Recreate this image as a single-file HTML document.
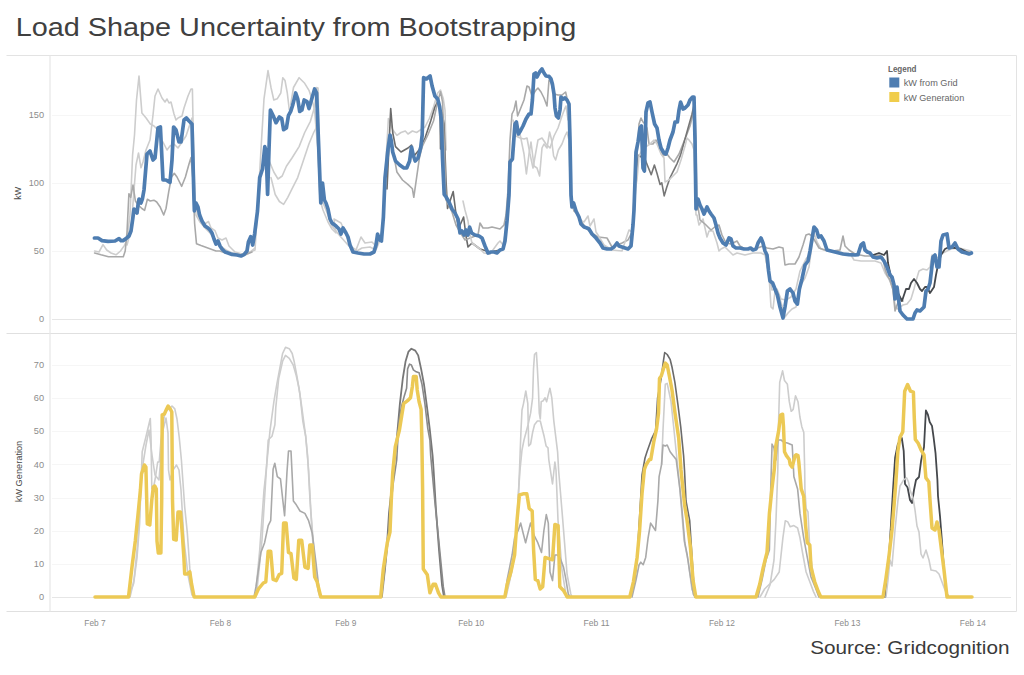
<!DOCTYPE html>
<html><head><meta charset="utf-8"><style>
html,body{margin:0;padding:0;background:#fff;width:1024px;height:675px;overflow:hidden}
body{font-family:"Liberation Sans",sans-serif;position:relative}
.title{position:absolute;left:17px;top:10px;font-size:25.5px;color:#333;white-space:nowrap;letter-spacing:0.2px}
.src{position:absolute;left:811px;top:634px;font-size:18px;color:#333;white-space:nowrap;letter-spacing:0.3px}
svg{position:absolute;left:0;top:0}
.tt{font-size:26px;fill:#404040}
.sr{font-size:18.6px;fill:#3a3a3a}
.ax{font-size:9.2px;fill:#8c8c8c}
.at{font-size:9.2px;fill:#4a4a4a}
.lg{font-size:9px;fill:#666}
</style></head><body>
<svg width="1024" height="675" viewBox="0 0 1024 675">
<line x1="6.5" y1="55.5" x2="1016.5" y2="55.5" stroke="#e3e3e3" stroke-width="1"/>
<line x1="1016.5" y1="55.5" x2="1016.5" y2="611.5" stroke="#e3e3e3" stroke-width="1"/>
<line x1="6.5" y1="333.5" x2="1016.5" y2="333.5" stroke="#e0e0e0" stroke-width="1"/>
<line x1="6.5" y1="611.5" x2="1016.5" y2="611.5" stroke="#e0e0e0" stroke-width="1"/>
<line x1="50" y1="55.5" x2="50" y2="611.5" stroke="#e6e6e6" stroke-width="1.2"/>
<line x1="52" y1="251.5" x2="1011" y2="251.5" stroke="#f6f6f6" stroke-width="1"/>
<line x1="52" y1="183.5" x2="1011" y2="183.5" stroke="#f6f6f6" stroke-width="1"/>
<line x1="52" y1="115.5" x2="1011" y2="115.5" stroke="#f6f6f6" stroke-width="1"/>
<line x1="52" y1="319.5" x2="1011" y2="319.5" stroke="#e6e6e6" stroke-width="1"/>
<line x1="52" y1="564.5" x2="1011" y2="564.5" stroke="#f6f6f6" stroke-width="1"/>
<line x1="52" y1="531.5" x2="1011" y2="531.5" stroke="#f6f6f6" stroke-width="1"/>
<line x1="52" y1="498.5" x2="1011" y2="498.5" stroke="#f6f6f6" stroke-width="1"/>
<line x1="52" y1="464.5" x2="1011" y2="464.5" stroke="#f6f6f6" stroke-width="1"/>
<line x1="52" y1="431.5" x2="1011" y2="431.5" stroke="#f6f6f6" stroke-width="1"/>
<line x1="52" y1="398.5" x2="1011" y2="398.5" stroke="#f6f6f6" stroke-width="1"/>
<line x1="52" y1="365.5" x2="1011" y2="365.5" stroke="#f6f6f6" stroke-width="1"/>
<line x1="52" y1="597.5" x2="1011" y2="597.5" stroke="#e6e6e6" stroke-width="1"/>
<polyline points="94.6,251.0 99.0,252.0 103.0,244.6 106.7,250.0 111.0,253.0 116.0,254.8 120.5,251.0 124.3,245.6 127.0,240.0 130.0,215.0 132.6,154.8 134.5,135.0 136.5,100.0 139.0,76.0 141.9,113.0 146.1,118.0 150.3,124.0 154.0,126.0 158.0,130.0 161.0,140.0 163.0,142.0 167.0,150.0 170.0,146.0 174.0,144.0 178.0,148.0 182.0,142.0 186.0,136.0 190.0,124.0 192.0,118.0 193.5,150.0 195.0,200.0 198.0,215.0 203.0,225.0 208.5,221.5 211.0,228.0 215.0,230.7 218.0,238.0 222.0,240.0 226.0,238.0 229.0,246.0 235.0,252.0 242.0,254.0 250.0,252.0 255.0,248.0" fill="none" stroke="#cdcdcd" stroke-width="1.6" stroke-linejoin="round" stroke-linecap="round"/>
<polyline points="127.0,245.0 131.0,230.0 134.0,190.0 136.0,165.0 138.5,153.0 141.0,167.8 143.0,162.0 146.0,150.0 150.0,140.0 153.0,115.0 155.0,96.0 158.0,89.0 162.0,98.0 165.0,102.0 167.0,99.0 169.0,103.0 171.0,102.0 174.0,114.0 176.0,120.0 178.0,118.0 182.0,116.0 184.0,108.0 188.0,96.0 191.0,89.0 192.4,89.0 193.0,120.0 194.5,200.0 196.0,215.0 200.0,222.0 205.0,228.0 210.0,233.0 215.0,240.0 220.0,246.0 226.0,250.0 232.0,253.0 240.0,254.0 248.0,253.0 255.0,250.0 257.5,211.0 261.0,149.4 264.0,98.8 268.0,70.6 271.0,87.5 273.8,100.0 277.2,98.8 280.8,93.0 282.8,77.7 285.0,80.5 287.3,93.0 289.3,110.0" fill="none" stroke="#cdcdcd" stroke-width="1.6" stroke-linejoin="round" stroke-linecap="round"/>
<polyline points="94.6,253.0 101.0,254.8 108.5,256.7 117.8,256.7 123.3,256.7 125.2,251.0 127.0,232.6 128.9,193.7 130.7,197.4 133.0,185.0 135.4,201.0 138.0,204.8 141.9,208.5 144.6,210.4 147.4,199.3 150.2,201.0 153.9,200.2 156.7,202.0 160.0,206.7 163.7,215.0 166.0,208.5 168.7,191.9 171.5,177.0 174.3,173.3 177.0,177.0 181.7,186.3 185.4,177.0 189.0,164.0 191.0,157.6 193.0,180.0 194.6,223.3 196.5,243.7 201.0,245.6 208.5,248.3 216.0,251.0 219.6,251.0 226.0,253.0 235.0,255.0 245.0,255.0 252.0,252.0" fill="none" stroke="#a9a9a9" stroke-width="1.6" stroke-linejoin="round" stroke-linecap="round"/>
<polyline points="290.7,104.4 293.5,87.5 299.1,77.7 304.7,83.3 309.0,90.3 311.8,98.8 314.6,110.0 316.0,128.3 318.0,150.0 320.0,200.0 323.0,210.0 328.0,222.0 332.0,229.0 336.0,233.0 334.0,219.0 341.0,223.0 346.0,234.0 350.0,246.0 356.0,250.0 361.0,237.0 365.0,243.0 372.0,242.0 376.0,246.0" fill="none" stroke="#cdcdcd" stroke-width="1.6" stroke-linejoin="round" stroke-linecap="round"/>
<polyline points="268.0,158.0 273.8,172.0 278.0,179.0 282.2,176.0 286.4,166.3 292.0,158.0 299.1,146.6 304.7,132.5 310.4,121.3 314.6,107.0 316.6,87.5 318.0,88.0 319.0,130.0" fill="none" stroke="#cdcdcd" stroke-width="1.6" stroke-linejoin="round" stroke-linecap="round"/>
<polyline points="271.0,177.6 275.2,194.5 279.4,201.5 283.6,204.3 287.8,197.3 292.0,188.8 297.7,177.6 303.3,160.7 309.0,143.8 313.7,132.5 316.6,127.0 318.0,150.0 320.0,196.0 326.0,210.0 332.0,226.0 340.0,236.0 348.0,245.0 355.0,252.0 362.0,248.0 370.0,247.0 376.0,250.0 380.0,240.0 383.0,225.0 386.0,160.0 388.4,118.5 392.7,129.7 396.9,135.4 401.0,132.5 405.3,131.0 408.0,134.0 412.4,131.0 416.6,132.5 420.8,129.7 425.0,127.0 429.3,118.5 433.5,107.0 437.7,93.0 440.5,90.0 443.3,98.8 445.0,110.0 446.0,150.0" fill="none" stroke="#cdcdcd" stroke-width="1.6" stroke-linejoin="round" stroke-linecap="round"/>
<polyline points="387.0,189.0 390.7,108.6 392.7,132.5 395.5,146.6 401.0,152.0 408.0,148.0 411.5,145.0 414.0,156.0 419.4,149.4 425.0,138.0 430.7,121.0 434.9,107.0 437.7,101.6 440.0,107.0 440.5,149.0 442.0,112.0 444.0,124.0 446.0,180.0 447.5,208.5 453.2,191.6 456.0,214.0 458.8,228.0 463.6,217.0 466.0,236.0 468.0,247.0 472.0,243.0 480.0,249.0 490.0,252.0 500.0,250.0" fill="none" stroke="#6b6b6b" stroke-width="1.6" stroke-linejoin="round" stroke-linecap="round"/>
<polyline points="392.7,149.4 396.9,172.0 402.5,180.0 408.1,184.6 412.4,188.8 413.8,197.3 416.6,177.6 419.4,158.0 422.2,146.6 427.8,135.0 433.5,121.0 437.7,101.6 440.5,91.7 442.5,101.6 444.0,140.0 446.0,200.0 452.0,212.0 456.0,225.0 460.0,232.0 465.0,240.0 470.0,238.0 478.0,235.0 480.0,223.0 483.0,228.0 488.0,228.0 492.0,227.0 496.0,228.0 500.0,229.0 504.0,225.0 506.0,215.0 508.0,190.0 510.0,140.0 512.0,114.0 514.0,110.0 516.0,101.0 517.6,116.0 520.0,110.0 524.0,100.0 527.0,86.0 529.0,87.0 532.0,96.0 536.0,90.0 538.0,88.0 541.0,92.0 544.0,98.0 547.0,106.0 549.0,80.0 551.0,82.0 554.0,94.0 558.0,95.0 562.0,95.0 565.6,92.0 567.0,98.0 569.0,104.0 570.0,150.0 571.0,200.0 574.0,211.0 578.0,214.0 583.0,224.0 590.0,232.0 598.0,237.0 607.0,238.0 612.0,247.0 622.0,243.0 628.0,240.0 632.0,232.0 635.0,200.0 637.0,156.0 639.0,124.0 641.0,118.0 643.0,122.0 645.0,124.0 647.0,128.0 649.0,144.0 653.0,144.0 656.0,140.0 659.0,146.0 663.0,156.0 667.0,154.0 670.0,158.0 674.0,162.0 679.0,154.0 683.0,144.0 687.0,134.0 690.0,126.0 693.0,114.0 695.0,110.0 696.0,150.0 697.0,210.0" fill="none" stroke="#a9a9a9" stroke-width="1.6" stroke-linejoin="round" stroke-linecap="round"/>
<polyline points="463.0,201.0 465.0,210.0 468.0,221.0 470.0,235.0 472.0,243.0 476.0,246.0 480.0,249.0 484.0,253.0 490.0,254.0 498.0,243.0 500.0,241.0 503.0,245.0 506.0,230.0" fill="none" stroke="#cdcdcd" stroke-width="1.6" stroke-linejoin="round" stroke-linecap="round"/>
<polyline points="513.0,120.0 518.0,136.0 520.0,134.0 524.0,154.0 526.4,174.0 529.0,154.0 531.0,142.0 534.0,166.0 537.0,168.0 539.6,176.0 542.0,148.0 544.0,144.0 547.0,148.0 549.6,132.0 551.6,140.0 553.6,156.0 555.6,160.0 558.4,150.0 562.0,144.0 565.0,136.0 567.0,132.0 569.0,140.0 570.0,180.0 572.0,205.0 576.0,212.0 580.0,220.0 584.0,222.0 588.0,216.0 590.0,226.0 594.0,219.0 596.0,232.0 598.0,235.0 604.0,245.0 612.0,250.0 622.0,251.0 629.0,230.0 632.0,232.0" fill="none" stroke="#cdcdcd" stroke-width="1.6" stroke-linejoin="round" stroke-linecap="round"/>
<polyline points="516.0,136.0 520.0,138.0 524.0,139.0 527.0,138.0 530.0,154.0 533.0,168.0 538.0,140.0 542.0,138.0 546.0,144.0 550.0,148.0 554.0,136.0 558.0,128.0 562.0,116.0 565.0,108.0 566.0,106.0 568.0,120.0" fill="none" stroke="#cdcdcd" stroke-width="1.6" stroke-linejoin="round" stroke-linecap="round"/>
<polyline points="636.0,175.0 638.0,158.0 639.0,155.0 641.0,157.0 644.7,158.4 647.9,166.5 651.2,174.7 654.4,165.0 656.9,173.0 660.1,184.5 661.8,182.8 664.2,195.9 666.6,187.7 669.9,178.0 673.2,171.4 677.2,163.3 680.5,155.1 683.7,143.7 687.8,129.0 691.9,114.4 694.0,105.0 695.0,130.0 696.0,200.0" fill="none" stroke="#767676" stroke-width="1.6" stroke-linejoin="round" stroke-linecap="round"/>
<polyline points="633.0,210.0 635.0,190.0 637.0,180.0 639.0,156.0 643.0,148.0 647.0,146.0 650.0,144.0 654.0,140.0 657.0,144.0 661.0,154.0 664.0,158.0 665.0,182.0 669.0,180.0 673.0,176.0 677.0,172.0 681.0,160.0 685.0,146.0 687.0,138.0 689.0,140.0 692.0,144.0 694.0,150.0 696.0,215.0 697.0,215.0 699.0,225.0 703.0,219.0 707.0,237.0 709.0,231.0 713.0,231.0 717.0,243.0 719.0,251.0 721.0,249.0 725.0,247.0 729.0,251.0 733.0,255.0 737.0,253.0 745.0,255.0 753.0,253.0 761.0,253.0 765.0,255.0 769.0,275.0 771.0,307.0 773.0,309.0 775.0,291.0 779.0,296.0 783.0,309.0 785.0,317.0 788.0,313.0 792.0,309.0 796.0,307.0 799.0,290.0 802.0,283.0 805.0,278.0 809.0,267.0 812.0,245.0 814.0,233.0 817.0,242.0 821.0,249.0 827.0,251.0 840.0,252.0 851.0,255.0 854.0,260.0 861.0,261.0 869.0,261.0 875.0,261.0 881.0,263.0 885.0,273.0 889.0,279.0 893.0,289.0 895.0,305.0 897.0,309.0 903.0,305.0 907.0,304.0 911.0,299.0 914.0,289.0 916.0,281.0 919.0,271.0 923.0,269.0 927.0,270.0 930.0,267.0 932.0,255.0 937.0,258.0 943.0,253.0 951.0,249.0 959.0,248.0 967.0,250.0 971.0,251.0" fill="none" stroke="#cdcdcd" stroke-width="1.6" stroke-linejoin="round" stroke-linecap="round"/>
<polyline points="697.0,200.0 700.0,220.0 705.0,224.0 711.0,230.0 716.0,226.0 719.0,225.0 722.0,235.0 726.0,243.0 731.0,244.0 737.0,241.0 740.0,246.0 745.0,249.0 755.0,249.0 763.0,246.0 767.0,248.0 773.0,249.0 779.0,247.0 783.0,248.0 785.0,265.0 789.0,264.0 795.0,264.0 799.0,257.0 803.0,245.0 806.0,235.0 809.0,234.0 812.0,236.0 815.0,241.0 819.0,248.0 825.0,250.0 832.0,251.0 840.0,250.0 843.0,236.0 845.0,246.0 849.0,250.0 855.0,254.0 865.0,256.0 873.0,256.0 879.0,255.0 883.0,258.0 885.0,269.0 887.0,275.0 890.0,280.0 893.0,290.0 895.0,311.0 897.0,305.0 899.0,300.0 903.0,301.0" fill="none" stroke="#a9a9a9" stroke-width="1.6" stroke-linejoin="round" stroke-linecap="round"/>
<polyline points="766.0,260.0 769.0,275.0 772.0,290.0 777.0,289.0 781.0,299.0 786.0,300.0 791.0,297.0 796.0,289.0 800.0,271.0 802.0,267.0 806.0,259.0 809.0,255.0" fill="none" stroke="#cdcdcd" stroke-width="1.6" stroke-linejoin="round" stroke-linecap="round"/>
<polyline points="873.0,255.0 879.0,253.0 884.0,255.0 887.0,251.0 888.0,263.0 891.0,277.0 895.0,288.0 899.0,295.0 902.0,301.0 906.0,289.0 909.0,289.0 911.0,283.0 914.0,279.0 917.0,283.0 920.0,289.0 922.0,291.0 925.0,287.0 927.0,287.0 930.0,293.0 934.0,287.0 936.0,275.0 938.0,265.0 941.0,255.0 945.0,249.0 949.0,247.0 955.0,248.0 961.0,249.0 967.0,252.0 971.0,253.0" fill="none" stroke="#45484c" stroke-width="1.8" stroke-linejoin="round" stroke-linecap="round"/>
<polyline points="94.4,238.0 98.0,238.0 102.0,240.6 108.0,241.4 115.0,241.0 119.0,238.6 121.0,240.6 123.0,240.6 126.0,238.6 129.0,236.0 131.0,231.0 133.0,217.0 134.0,209.0 135.6,211.0 137.0,213.0 138.0,205.0 139.0,199.0 141.0,203.0 142.4,199.0 144.0,190.0 147.0,154.0 150.0,151.0 153.0,160.0 155.0,158.0 158.0,128.0 160.4,127.0 163.0,180.0 166.0,180.0 170.0,182.4 172.0,160.0 173.6,127.0 176.0,130.0 179.0,142.0 181.0,142.0 184.0,120.0 186.4,118.0 189.0,121.0 192.0,124.0 194.0,200.0 194.4,211.0 196.0,203.0 198.0,207.0 199.6,215.0 202.0,221.0 205.0,226.0 208.0,228.0 210.0,230.0 212.0,233.0 214.0,239.0 216.0,244.0 218.0,241.0 220.0,246.0 222.0,249.0 225.0,252.0 228.0,253.0 232.0,254.4 237.0,255.0 241.0,256.0 244.0,254.6 247.0,251.0 248.4,242.0 250.7,236.7 252.7,245.0 254.6,234.0 257.5,211.0 259.7,177.6 262.5,169.0 264.8,146.6 266.2,152.0 267.6,194.5 269.0,149.4 270.4,110.0 273.2,115.7 276.0,122.7 279.4,117.0 281.7,118.5 283.6,129.7 286.4,128.0 288.4,115.7 290.7,111.4 292.9,104.4 295.7,93.0 297.7,98.8 299.7,111.4 301.9,110.0 304.2,100.0 307.0,101.6 309.0,108.6 311.8,98.8 314.6,89.0 316.6,93.0 318.8,149.4 320.8,203.0 322.5,183.0 324.4,200.0 326.0,203.0 328.0,209.0 330.0,219.0 332.0,223.0 336.0,226.0 339.0,229.0 341.0,234.0 343.0,228.0 346.0,233.0 348.0,237.0 350.0,245.0 353.0,252.0 358.0,253.0 364.0,254.0 370.0,254.0 374.0,252.0 376.0,245.0 377.6,234.0 379.6,240.0 381.4,241.0 383.4,217.0 385.0,178.0 388.0,149.0 390.0,135.0 391.3,141.0 392.7,152.0 395.5,161.0 399.7,165.0 403.9,168.0 406.7,168.0 409.6,161.0 411.5,147.0 413.2,155.0 415.2,161.0 418.0,158.0 420.8,147.0 422.2,135.0 423.6,77.7 426.4,79.0 430.1,76.0 432.1,86.0 434.9,96.0 437.7,99.0 439.7,107.0 441.4,121.0 442.5,158.0 444.2,194.5 446.1,197.0 449.0,202.0 452.0,209.0 455.0,213.0 458.0,219.0 460.0,233.0 462.0,231.0 464.0,235.0 466.0,230.0 468.0,235.0 469.6,227.0 471.6,233.0 475.0,235.0 479.0,236.0 482.0,238.0 485.0,246.0 488.0,253.0 491.0,252.0 494.0,252.0 497.0,253.0 500.0,250.0 503.0,249.0 505.0,241.0 507.0,221.0 509.0,195.0 510.0,162.0 512.4,159.0 515.0,124.0 516.4,122.0 518.4,134.0 520.4,131.0 523.0,126.0 526.0,119.0 529.0,114.0 531.0,114.0 532.4,100.0 534.0,74.0 535.6,73.0 537.0,77.0 539.6,72.0 542.0,69.0 544.0,73.0 546.0,76.0 549.0,76.4 551.0,79.0 552.4,84.0 554.0,94.0 555.0,108.0 556.4,116.0 558.4,118.0 560.0,110.0 561.0,97.0 563.0,99.0 565.0,98.0 567.0,100.0 569.0,104.0 570.0,140.0 571.0,195.0 572.0,207.0 573.6,203.0 576.0,211.0 579.0,217.0 581.0,224.0 584.0,227.0 587.0,228.0 589.0,229.0 592.0,234.0 596.0,238.0 600.0,243.0 603.0,248.0 607.0,249.0 611.0,249.0 614.0,247.0 617.0,243.0 619.0,246.0 622.0,247.0 625.0,248.0 628.0,249.0 631.0,246.0 633.0,225.0 634.0,210.0 636.0,152.0 638.0,142.0 640.0,128.0 641.4,126.0 643.0,168.0 644.4,171.0 646.0,112.0 648.0,103.0 650.0,102.0 652.0,112.0 654.6,124.0 657.0,128.0 659.0,140.0 661.0,148.0 664.0,153.0 666.0,154.0 668.0,148.0 670.0,140.0 673.0,132.0 675.0,122.0 677.4,122.0 679.0,110.0 680.6,102.0 683.0,109.0 685.0,108.0 688.0,105.0 690.0,100.0 692.6,97.0 694.0,97.0 695.0,140.0 696.0,209.0 698.0,199.0 700.0,205.0 702.0,209.0 704.0,214.0 707.0,207.0 709.0,211.0 711.0,214.0 714.0,218.0 716.0,225.0 718.0,233.0 720.0,238.0 723.0,243.0 726.0,245.0 729.0,238.0 731.0,239.0 733.0,246.0 736.0,248.0 740.0,248.0 744.0,249.0 748.0,249.0 750.6,248.0 753.0,250.0 756.0,249.0 758.0,243.0 761.0,238.0 763.0,243.0 765.0,251.0 767.0,255.0 768.6,271.0 770.0,281.0 772.6,283.0 775.0,289.0 777.4,295.0 780.0,307.0 783.0,318.0 785.0,307.0 787.4,291.0 790.0,289.0 793.0,293.0 795.0,301.0 797.4,304.0 799.4,289.0 802.0,279.0 805.0,265.0 808.0,261.0 810.0,251.0 812.0,239.0 814.0,227.0 816.6,230.0 818.6,237.0 821.0,236.0 824.0,241.0 827.0,250.0 831.0,251.0 835.0,252.0 839.0,253.0 843.0,254.0 849.0,254.6 855.0,255.0 858.0,254.6 861.0,245.0 863.4,243.0 865.0,250.0 867.4,252.0 870.0,253.0 873.0,257.0 877.0,258.0 881.0,257.0 884.0,261.0 887.0,267.0 890.0,275.0 892.0,277.0 894.0,285.0 895.0,299.0 897.0,287.0 899.0,303.0 900.0,311.0 903.0,315.0 907.0,319.0 913.0,319.0 915.0,313.0 917.0,310.0 920.0,311.0 924.0,307.0 926.0,291.0 928.0,289.0 930.0,283.0 933.0,257.0 935.0,255.0 937.0,267.0 939.0,267.0 941.0,241.0 943.0,235.0 947.0,234.0 949.0,248.0 952.0,247.0 955.0,243.0 958.0,249.0 962.0,252.0 966.0,253.0 969.0,254.0 971.4,253.0" fill="none" stroke="#4e7db1" stroke-width="3.7" stroke-linejoin="round" stroke-linecap="round"/>
<polyline points="128.0,597.0 133.6,583.7 137.0,558.0 139.6,524.0 142.2,451.8 145.9,437.0 150.3,418.5 151.0,437.0 151.8,488.8 153.3,488.8 155.5,477.0 157.7,462.0 159.2,462.0 161.0,440.0 163.0,425.0 165.0,412.0 167.4,410.0 170.0,408.0 172.0,406.0 174.8,408.9 177.0,419.0 179.2,437.0 181.4,460.0 184.7,507.0 187.3,532.6 189.8,568.4 193.3,592.0 195.0,597.0" fill="none" stroke="#cdcdcd" stroke-width="1.6" stroke-linejoin="round" stroke-linecap="round"/>
<polyline points="130.0,597.0 134.0,580.0 138.0,540.0 142.0,470.0 146.0,445.0 149.0,430.0 152.0,455.0 155.0,475.0 159.0,480.0 163.0,430.0 166.0,418.0 168.0,433.0 168.5,470.0 170.0,480.0 173.0,470.0 176.5,465.0 179.0,470.0 181.0,490.0 184.0,540.0 188.0,575.0 192.0,595.0" fill="none" stroke="#cdcdcd" stroke-width="1.6" stroke-linejoin="round" stroke-linecap="round"/>
<polyline points="256.0,590.0 259.7,550.0 264.0,490.0 266.2,470.0 270.0,430.6 273.9,401.7 276.8,384.3 279.7,369.0 282.6,353.5 285.5,347.3 289.3,348.7 292.2,353.5 294.1,361.2 297.0,376.6 299.9,394.0 302.8,421.0 305.7,436.3 308.6,470.0 311.0,513.4 315.9,574.5 318.3,591.6 320.0,597.0" fill="none" stroke="#cdcdcd" stroke-width="1.6" stroke-linejoin="round" stroke-linecap="round"/>
<polyline points="257.0,590.0 262.0,540.0 268.2,440.0 272.0,436.3 274.9,424.8 275.8,407.4 278.7,378.5 282.6,361.2 285.5,355.4 289.3,358.3 293.2,365.0 296.0,374.7 299.0,388.2 301.8,407.4 303.5,420.0 305.7,436.3 307.6,455.6 310.0,500.0 314.0,560.0 318.0,590.0" fill="none" stroke="#cdcdcd" stroke-width="1.6" stroke-linejoin="round" stroke-linecap="round"/>
<polyline points="254.0,597.0 256.0,586.7 260.9,552.5 264.6,542.7 268.2,525.6 270.7,520.7 273.1,469.3 274.8,463.2 277.3,476.7 280.5,479.0 282.9,501.0 284.6,515.8 287.0,471.8 288.5,451.0 291.0,451.0 293.4,501.0 296.3,504.8 300.0,511.0 304.9,513.4 308.6,520.7 312.2,533.0 315.9,562.2 319.6,594.0 321.0,597.0" fill="none" stroke="#a9a9a9" stroke-width="1.6" stroke-linejoin="round" stroke-linecap="round"/>
<polyline points="381.0,597.0 384.0,575.0 387.0,545.0 389.0,513.0 392.0,485.0 394.5,460.0 397.0,436.3 399.9,403.6 402.8,378.5 405.6,361.2 408.5,351.6 411.4,348.7 415.3,350.6 418.2,355.4 421.1,368.9 424.0,384.3 426.8,405.5 429.7,428.6 432.6,455.6 433.6,470.0 436.0,510.0 439.0,550.0 442.0,585.0 444.0,597.0" fill="none" stroke="#777777" stroke-width="1.8" stroke-linejoin="round" stroke-linecap="round"/>
<polyline points="382.0,597.0 385.0,570.0 388.0,540.0 390.0,515.0 393.0,485.0 396.7,460.0 398.9,421.0 401.8,405.5 404.3,395.9 406.6,388.2 407.6,368.9 409.5,364.1 411.4,365.0 413.4,369.9 416.2,371.8 419.1,372.8 422.0,384.3 424.9,403.6 427.8,428.6 429.9,440.0 430.7,455.6 434.8,501.0 438.5,537.8 443.3,586.7 445.0,597.0" fill="none" stroke="#8a8a8a" stroke-width="1.6" stroke-linejoin="round" stroke-linecap="round"/>
<polyline points="505.0,597.0 508.0,586.0 511.0,574.0 514.0,558.0 516.5,530.0 518.0,500.0 520.0,470.0 522.0,450.0 524.0,440.0 528.0,425.0 530.6,413.2 532.6,397.8 533.5,368.9 534.5,354.5 536.4,352.5 537.4,368.9 538.4,388.2 539.3,413.2 540.3,419.0 541.2,401.7 543.2,400.7 545.1,397.8 546.6,401.7 548.0,395.9 549.9,388.2 551.8,397.8 553.8,420.9 555.7,436.3 557.6,451.8 558.6,470.0 562.2,513.4 567.1,574.5 570.8,594.0 572.0,597.0" fill="none" stroke="#cdcdcd" stroke-width="1.6" stroke-linejoin="round" stroke-linecap="round"/>
<polyline points="506.0,597.0 509.0,584.0 512.0,570.0 515.0,552.0 517.5,515.0 519.5,470.0 521.0,430.0 522.0,410.0 523.5,403.6 525.8,391.0 527.8,403.6 528.7,446.0 530.6,444.0 532.6,432.5 534.5,424.8 537.4,421.0 540.3,421.0 542.0,428.0 544.1,436.3 546.1,446.0 548.0,447.9 548.8,459.6 552.5,484.0 554.9,462.0 556.0,470.0 558.0,520.0 562.0,570.0 566.0,595.0" fill="none" stroke="#cdcdcd" stroke-width="1.6" stroke-linejoin="round" stroke-linecap="round"/>
<polyline points="505.0,597.0 507.2,579.4 512.1,555.0 514.6,537.8 518.2,530.5 520.7,523.1 523.1,533.0 525.6,542.7 528.0,533.0 530.5,523.1 534.1,535.4 537.8,542.7 541.5,552.5 543.9,530.5 546.3,514.6 548.3,523.1 550.0,572.0 552.5,580.6 554.9,555.0 557.3,555.0 559.8,557.4 563.5,567.1 565.9,579.4 568.3,594.0 570.0,597.0" fill="none" stroke="#a9a9a9" stroke-width="1.6" stroke-linejoin="round" stroke-linecap="round"/>
<polyline points="630.0,597.0 634.0,585.0 637.0,560.0 640.0,510.0 642.0,475.0 645.0,458.0 647.0,451.8 651.8,438.3 655.6,430.6 657.6,397.8 659.5,388.2 661.4,376.6 663.4,361.2 664.7,352.5 667.2,354.5 670.1,359.3 672.0,367.0 674.9,382.4 677.8,403.6 680.7,426.7 683.6,455.6 684.5,470.0 686.0,501.0 689.7,520.7 693.3,577.0 695.0,597.0" fill="none" stroke="#6b6b6b" stroke-width="1.6" stroke-linejoin="round" stroke-linecap="round"/>
<polyline points="661.6,464.4 663.0,430.0 665.3,384.3 667.2,383.4 669.0,392.0 671.0,401.7 674.0,430.0 677.0,460.0 680.0,490.0 684.0,540.0 688.0,560.0 692.0,590.0" fill="none" stroke="#cdcdcd" stroke-width="1.6" stroke-linejoin="round" stroke-linecap="round"/>
<polyline points="632.0,597.0 636.0,580.0 639.0,565.0 640.8,562.2 643.2,564.7 645.7,557.4 648.1,537.8 650.6,523.1 653.0,526.8 655.5,530.5 657.9,501.0 659.1,476.7 661.6,464.4 663.0,445.0 665.3,446.0 667.2,445.0 670.1,451.8 673.0,455.6 676.2,459.6 679.9,488.9 682.3,513.4 684.8,542.7 687.2,555.0 689.7,572.0 693.3,594.0 695.0,597.0" fill="none" stroke="#a9a9a9" stroke-width="1.6" stroke-linejoin="round" stroke-linecap="round"/>
<polyline points="765.0,597.0 770.0,585.0 774.0,560.0 776.0,520.0 777.8,470.0 778.7,417.0 779.7,382.4 782.6,370.8 784.5,380.5 787.4,384.3 789.3,401.7 791.2,411.3 793.2,409.4 795.5,395.9 798.0,401.7 799.9,417.0 801.8,426.7 803.8,432.5 804.7,470.0 804.9,489.0 806.1,508.5 808.0,512.0 809.8,550.0 813.5,577.0 817.1,591.6 819.0,597.0" fill="none" stroke="#cdcdcd" stroke-width="1.6" stroke-linejoin="round" stroke-linecap="round"/>
<polyline points="760.0,597.0 764.6,589.0 769.4,584.3 774.3,579.4 779.2,572.0 782.9,537.8 785.3,520.7 787.8,521.9 790.2,526.8 793.9,525.6 797.6,528.0 800.0,537.8 802.5,552.5 806.1,572.0 809.8,581.8 813.5,591.6 816.0,597.0" fill="none" stroke="#cdcdcd" stroke-width="1.6" stroke-linejoin="round" stroke-linecap="round"/>
<polyline points="758.0,597.0 762.0,580.0 766.0,560.0 769.4,550.0 770.7,489.0 771.9,449.8 772.0,444.0 774.0,448.0 776.0,460.0 778.0,440.0 781.0,440.0 784.1,442.4 787.4,443.0 792.2,445.0 793.9,476.7 797.6,488.9 800.0,513.4 803.7,537.8 807.3,557.4 811.0,577.0 815.9,589.0 819.0,597.0" fill="none" stroke="#a9a9a9" stroke-width="1.6" stroke-linejoin="round" stroke-linecap="round"/>
<polyline points="885.0,597.0 887.0,570.0 889.3,552.0 891.2,520.6 893.0,490.0 895.1,457.8 897.9,444.0 901.8,438.0 903.7,450.9 905.0,484.0 907.6,487.5 910.0,500.0 912.0,503.0 914.0,490.0 916.0,480.0 919.0,477.0 921.1,460.6 924.0,447.0 925.9,410.5 927.8,414.3 929.7,422.0 932.0,425.9 933.6,437.4 935.5,452.8 937.4,479.8 938.0,496.0 940.0,516.0 942.0,542.0 944.0,570.0 946.0,590.0 948.0,597.0" fill="none" stroke="#45484c" stroke-width="1.8" stroke-linejoin="round" stroke-linecap="round"/>
<polyline points="886.0,597.0 888.0,580.0 890.0,560.0 892.0,566.0 895.0,530.0 898.0,500.0 900.0,486.0 903.7,479.8 906.6,477.9 908.5,481.8 910.0,490.0 913.0,498.0 915.0,510.0 917.0,526.0 919.0,532.0 921.0,554.0 923.0,558.0 926.0,550.0 929.0,560.0 931.0,570.0 936.0,571.0 939.0,574.0 942.0,582.0 945.0,590.0 948.0,597.0" fill="none" stroke="#cdcdcd" stroke-width="1.6" stroke-linejoin="round" stroke-linecap="round"/>
<polyline points="95.0,597.0 128.5,597.0 132.0,566.7 135.3,541.0 137.9,515.6 140.4,490.0 141.5,474.0 144.4,465.0 145.9,467.0 147.3,524.0 149.8,525.0 151.8,500.0 153.3,487.0 154.8,486.0 156.3,489.0 157.0,541.0 158.3,553.0 160.9,553.0 161.7,500.0 162.2,414.8 164.4,414.0 166.6,409.0 168.1,406.0 170.3,409.0 171.8,412.0 172.5,500.0 173.7,539.4 176.2,540.0 178.0,512.0 180.5,512.0 182.2,532.6 183.9,558.0 184.7,574.0 187.3,574.0 189.8,571.8 191.5,583.7 194.1,597.0 254.8,597.0 258.4,589.0 263.3,583.0 265.8,581.8 268.2,551.2 270.7,551.2 273.1,579.4 276.3,580.6 279.2,574.5 281.7,573.3 283.6,523.0 286.1,523.0 288.5,552.5 291.0,553.7 293.9,578.0 296.3,579.4 298.8,540.2 301.7,540.2 304.9,567.1 308.1,568.4 309.8,545.1 312.2,545.1 314.7,577.0 317.1,581.8 320.8,597.0 380.7,597.0 383.3,569.0 387.3,542.7 390.0,532.0 391.3,500.0 392.7,473.0 395.3,446.7 399.3,430.7 401.8,415.1 403.7,403.6 407.6,400.7 410.5,397.8 412.4,386.2 413.4,376.6 416.2,376.6 417.2,390.0 419.1,401.7 421.1,409.4 421.8,436.3 422.6,489.0 423.3,569.0 427.3,574.7 429.9,592.8 433.1,584.3 435.5,584.3 438.5,592.8 440.9,597.0 504.8,597.0 507.2,584.3 510.9,572.0 514.6,555.0 517.0,520.7 519.4,495.0 523.1,493.8 526.8,493.8 529.2,508.5 532.2,511.0 533.6,550.0 535.3,579.4 537.8,580.6 540.2,589.0 542.7,586.7 545.1,557.4 548.8,558.6 552.5,559.8 554.9,524.4 558.1,525.6 559.8,586.7 563.5,590.4 567.1,597.0 629.8,597.0 633.4,581.8 637.1,557.4 639.6,530.5 642.0,493.8 644.4,469.3 646.0,465.0 649.3,459.6 650.8,459.5 653.7,442.1 656.6,428.6 658.5,413.2 659.5,378.5 661.4,375.6 663.4,368.9 665.3,363.1 667.2,365.0 669.1,374.7 672.0,390.0 675.0,413.0 678.7,438.0 681.0,470.0 684.6,505.0 687.0,520.0 690.5,548.0 693.0,580.0 695.8,597.0 756.0,597.0 759.7,584.3 763.3,567.1 767.0,552.5 769.4,513.4 771.9,489.0 774.3,469.3 775.8,446.0 778.7,430.6 780.6,415.1 782.6,414.2 783.5,426.7 784.5,451.8 786.4,455.6 789.3,459.5 790.2,464.4 792.2,467.2 795.1,455.6 796.3,454.7 798.0,455.6 798.8,462.0 801.2,488.9 803.7,496.2 805.6,525.6 807.3,542.7 809.8,545.1 811.0,567.1 814.7,581.8 818.3,591.6 820.8,597.0 883.0,597.0 886.0,578.0 889.0,556.0 892.0,530.0 894.0,506.0 896.0,480.0 897.9,450.9 899.9,437.4 902.8,431.7 904.7,391.2 907.6,384.5 910.5,391.2 913.4,392.2 914.3,418.2 915.3,439.4 918.2,443.2 921.1,450.0 924.0,454.8 925.9,477.9 928.8,481.8 930.0,500.0 932.0,528.0 935.0,530.0 937.0,522.0 939.0,530.0 941.0,546.0 944.0,570.0 947.0,597.0 972.0,597.0" fill="none" stroke="#ecc955" stroke-width="3.5" stroke-linejoin="round" stroke-linecap="round"/>
<text x="15.7" y="36.3" class="tt" textLength="560.6" lengthAdjust="spacingAndGlyphs">Load Shape Uncertainty from Bootstrapping</text>
<text x="810.2" y="653.7" class="sr" textLength="199.3" lengthAdjust="spacingAndGlyphs">Source: Gridcognition</text>
<text x="44" y="322.0" text-anchor="end" class="ax">0</text>
<text x="44" y="254.0" text-anchor="end" class="ax">50</text>
<text x="44" y="186.0" text-anchor="end" class="ax">100</text>
<text x="44" y="118.0" text-anchor="end" class="ax">150</text>
<text x="44" y="600.3" text-anchor="end" class="ax">0</text>
<text x="44" y="567.1" text-anchor="end" class="ax">10</text>
<text x="44" y="533.9" text-anchor="end" class="ax">20</text>
<text x="44" y="500.7" text-anchor="end" class="ax">30</text>
<text x="44" y="467.5" text-anchor="end" class="ax">40</text>
<text x="44" y="434.3" text-anchor="end" class="ax">50</text>
<text x="44" y="401.1" text-anchor="end" class="ax">60</text>
<text x="44" y="367.9" text-anchor="end" class="ax">70</text>
<text x="95.0" y="626.3" text-anchor="middle" class="ax" textLength="21.3" lengthAdjust="spacingAndGlyphs">Feb 7</text>
<text x="220.4" y="626.3" text-anchor="middle" class="ax" textLength="21.3" lengthAdjust="spacingAndGlyphs">Feb 8</text>
<text x="345.8" y="626.3" text-anchor="middle" class="ax" textLength="21.3" lengthAdjust="spacingAndGlyphs">Feb 9</text>
<text x="471.2" y="626.3" text-anchor="middle" class="ax" textLength="26" lengthAdjust="spacingAndGlyphs">Feb 10</text>
<text x="596.6" y="626.3" text-anchor="middle" class="ax" textLength="26" lengthAdjust="spacingAndGlyphs">Feb 11</text>
<text x="722.0" y="626.3" text-anchor="middle" class="ax" textLength="26" lengthAdjust="spacingAndGlyphs">Feb 12</text>
<text x="847.4" y="626.3" text-anchor="middle" class="ax" textLength="26" lengthAdjust="spacingAndGlyphs">Feb 13</text>
<text x="972.8" y="626.3" text-anchor="middle" class="ax" textLength="26" lengthAdjust="spacingAndGlyphs">Feb 14</text>
<text transform="translate(21.4,193.2) rotate(-90)" text-anchor="middle" class="at" textLength="12.9" lengthAdjust="spacingAndGlyphs">kW</text>
<text transform="translate(21.6,471.5) rotate(-90)" text-anchor="middle" class="at" textLength="61.5" lengthAdjust="spacingAndGlyphs">kW Generation</text>
<text x="888" y="71.5" class="lg" font-weight="bold" fill="#555" textLength="28.5" lengthAdjust="spacingAndGlyphs">Legend</text>
<rect x="889.3" y="77.5" width="10" height="10" fill="#4e7db1"/>
<rect x="889.3" y="92" width="10" height="10" fill="#f0cd4c"/>
<text x="903.7" y="86" class="lg" textLength="54" lengthAdjust="spacingAndGlyphs">kW from Grid</text>
<text x="903.7" y="100.5" class="lg" textLength="60.5" lengthAdjust="spacingAndGlyphs">kW Generation</text>
</svg>
</body></html>
